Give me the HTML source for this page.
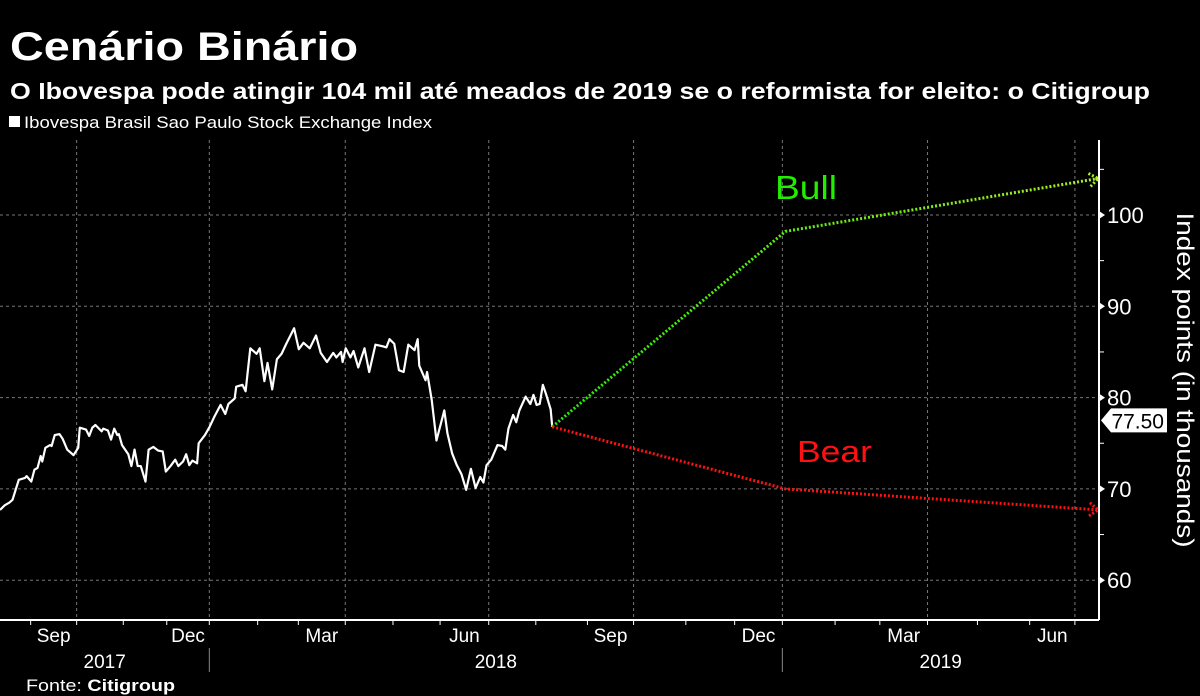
<!DOCTYPE html>
<html><head><meta charset="utf-8"><style>
body{margin:0;background:#000;width:1200px;height:696px;overflow:hidden;font-family:"Liberation Sans",sans-serif;color:#fff}
</style></head><body>
<svg id="chart" width="1200" height="696" xmlns="http://www.w3.org/2000/svg" style="position:absolute;left:0;top:0">
<defs>
<linearGradient id="bullGrad" x1="553" y1="0" x2="1098" y2="0" gradientUnits="userSpaceOnUse"><stop offset="0" stop-color="#22ee00"/><stop offset="1" stop-color="#aaee22"/></linearGradient>
</defs>
<text x="10" y="60" font-size="40" font-weight="bold" fill="#fff" textLength="348" lengthAdjust="spacingAndGlyphs">Cenário Binário</text>
<text x="10" y="99" font-size="23" font-weight="bold" fill="#fff" textLength="1140" lengthAdjust="spacingAndGlyphs">O Ibovespa pode atingir 104 mil até meados de 2019 se o reformista for eleito: o Citigroup</text>
<rect x="9" y="116" width="11" height="11" fill="#fff"/>
<text x="24" y="128" font-size="17" fill="#fff" textLength="408" lengthAdjust="spacingAndGlyphs">Ibovespa Brasil Sao Paulo Stock Exchange Index</text>
<g id="grid"></g><g id="axes"></g><g id="series"></g>
<text x="775" y="199" font-size="33" fill="#22ee00" textLength="62" lengthAdjust="spacingAndGlyphs">Bull</text>
<text x="797" y="462" font-size="31" fill="#ff1111" textLength="75" lengthAdjust="spacingAndGlyphs">Bear</text>
<text transform="translate(1177,380) rotate(90)" text-anchor="middle" font-size="24" fill="#fff" textLength="335" lengthAdjust="spacingAndGlyphs">Index points (in thousands)</text>
<text x="26" y="691" font-size="17" fill="#fff" textLength="149" lengthAdjust="spacingAndGlyphs">Fonte: <tspan font-weight="bold">Citigroup</tspan></text>
</svg>
<script>
const days=[0,3,6,8,12,16,17,20,22,24,26,27,29,32,33,35,38,40,43,47,50,51,55,57,59,61,65,66,69,71,73,75,76,78,82,84,86,88,90,93,95,98,101,104,106,109,112,114,117,119,121,123,126,127,131,134,137,141,144,146,150,151,155,157,160,164,166,169,171,174,177,180,183,188,191,194,198,202,205,209,213,215,218,219,221,224,226,229,233,236,240,245,247,249,252,255,258,261,265,267,268,272,273,276,279,284,286,289,292,295,298,301,304,307,309,311,314,318,321,323,325,328,330,332,336,339,341,343,345,347,349,352,353];
const values=[67.7,68.2,68.5,68.8,71.0,71.2,71.4,70.8,72.1,72.3,73.6,73.0,74.5,74.8,74.7,75.9,76.0,75.5,74.3,73.7,74.5,76.7,76.5,75.8,76.7,77.0,76.3,76.6,76.4,75.4,76.6,75.9,76.0,74.8,73.8,72.5,74.3,72.5,72.5,70.8,74.3,74.6,74.2,74.1,71.9,72.5,73.2,72.5,73.0,73.8,72.6,73.1,72.8,75.0,75.9,76.8,77.9,79.2,78.2,79.3,79.9,81.2,81.4,80.7,85.4,84.8,85.4,81.8,83.8,80.9,84.2,84.8,85.9,87.6,85.3,86.0,85.4,86.8,84.9,83.9,84.9,84.4,85.0,83.9,85.4,84.4,85.1,83.3,85.4,82.8,85.8,85.6,85.5,86.4,85.9,83.0,82.8,85.8,85.2,86.4,83.5,81.9,82.8,79.7,75.3,78.6,76.1,73.9,72.6,71.6,69.9,72.2,70.1,71.3,70.7,72.6,73.2,74.8,74.7,74.3,76.6,78.1,77.3,78.6,80.1,79.3,80.3,79.2,79.3,81.4,80.4,78.7,76.8];
const projDays=[353,502,702];
const bullValues=[76.8,98.2,104.0];
const bearValues=[76.8,70.0,67.7];
const lastPrice=77.50;
const yTicks=[60,70,80,90,100];
const yMinor=[65,75,85,95,105];
const monthStarts=[19.6,49.0,78.8,106.6,133.8,164.7,190.7,220.7,251.2,281.3,312.4,342.5,375.5,405.0,438.4,469.6,500.1,533.8,562.4,592.9,624.8,658.2,687.1];
const monthNames=["Sep","Oct","Nov","Dec","Jan","Feb","Mar","Apr","May","Jun","Jul","Aug","Sep","Oct","Nov","Dec","Jan","Feb","Mar","Apr","May","Jun","Jul"];
const labelMonths=["Sep","Dec","Mar","Jun"];
const gridMonths=["Oct","Jan","Apr","Jul"];
const years=["2017","2018","2019"];

const NS="http://www.w3.org/2000/svg";
const X0=0,PX_PER_DAY=1.5644,XR=1099,AXY=620;
const x=d=>X0+d*PX_PER_DAY;
const y=v=>215+(100-v)*9.13;
function mk(tag,attrs,parent){const e=document.createElementNS(NS,tag);for(const k in attrs)e.setAttribute(k,attrs[k]);parent.appendChild(e);return e;}
const grid=document.getElementById('grid'),axes=document.getElementById('axes'),ser=document.getElementById('series');

yTicks.forEach(t=>{
  const g=mk('line',{x1:0,x2:XR,y1:y(t),y2:y(t),stroke:'#777','stroke-width':1,'stroke-dasharray':'3,3'},grid);
  
  
  const tk=mk('path',{d:`M${XR},${y(t)-4}L${XR+6},${y(t)}L${XR},${y(t)+4}Z`,fill:'#fff'},axes);
  
  
  const lb=mk('text',{x:XR+8,y:y(t)+8,'font-size':22,fill:'#fff'},axes);
  lb.textContent=t;
  
  
});
yMinor.forEach(t=>{
  const tk=mk('line',{x1:XR,x2:XR+5,y1:y(t),y2:y(t),stroke:'#fff','stroke-width':1},axes);
  
  
});
const ya=mk('line',{x1:XR,x2:XR,y1:140,y2:AXY,stroke:'#fff','stroke-width':2},axes);


const xa=mk('line',{x1:0,x2:XR,y1:AXY,y2:AXY,stroke:'#fff','stroke-width':2},axes);



monthStarts.forEach((d,i)=>{
  const tk=mk('line',{x1:x(d),x2:x(d),y1:AXY,y2:AXY+5,stroke:'#fff','stroke-width':1},axes);
  
  
  if(gridMonths.includes(monthNames[i])){
    const g=mk('line',{x1:x(d),x2:x(d),y1:140,y2:AXY,stroke:'#777','stroke-width':1,'stroke-dasharray':'3,3'},grid);
    
    
  }
  if(labelMonths.includes(monthNames[i])&&i+1<monthStarts.length){
    const lb=mk('text',{x:(x(d)+x(monthStarts[i+1]))/2,y:642,'font-size':19,fill:'#fff','text-anchor':'middle'},axes);
    lb.textContent=monthNames[i];
    
    
  }
});
const janIdx=monthNames.map((m,i)=>m==='Jan'?i:-1).filter(i=>i>=0);
const bounds=[0,...janIdx.map(i=>x(monthStarts[i])),XR];
janIdx.forEach(i=>{
  const s=mk('line',{x1:x(monthStarts[i]),x2:x(monthStarts[i]),y1:648,y2:672,stroke:'#888','stroke-width':1},axes);
  
  
});
years.forEach((yr,i)=>{
  const lb=mk('text',{x:(bounds[i]+bounds[i+1])/2,y:668,'font-size':19,fill:'#fff','text-anchor':'middle'},axes);
  lb.textContent=yr;
  
  
});

const hist=mk('polyline',{points:days.map((d,i)=>x(d)+','+y(values[i])).join(' '),fill:'none',stroke:'#fff','stroke-width':2.2,'stroke-linejoin':'round'},ser);



function proj(vals,col,name){
  const pts=projDays.map((d,i)=>[x(d),y(vals[i])]);
  const p=mk('polyline',{points:pts.map(p=>p.join(',')).join(' '),fill:'none',stroke:col,'stroke-width':3,'stroke-dasharray':'2,2'},ser);
  
  
  const [a,b]=[pts[pts.length-2],pts[pts.length-1]];
  const ang=Math.atan2(b[1]-a[1],b[0]-a[0]);
  const h=[ang+2.5,ang-2.5].map(t=>[b[0]+11*Math.cos(t),b[1]+11*Math.sin(t)]);
  const ah=mk('polyline',{points:`${h[0].join(',')} ${b.join(',')} ${h[1].join(',')}`,fill:'none',stroke:col,'stroke-width':3,'stroke-dasharray':'2,2'},ser);
  
  
}
proj(bullValues,'url(#bullGrad)','bull-projection');
proj(bearValues,'#ff1111','bear-projection');

const py=y(lastPrice);
const tag=mk('path',{d:`M${XR+2},${py}L${XR+12},${py-12}H1167V${py+12}H${XR+12}Z`,fill:'#fff'},axes);


const tt=mk('text',{x:1164,y:py+8,'font-size':21,fill:'#000','text-anchor':'end'},axes);
tt.textContent=lastPrice.toFixed(2);


</script>
</body></html>
